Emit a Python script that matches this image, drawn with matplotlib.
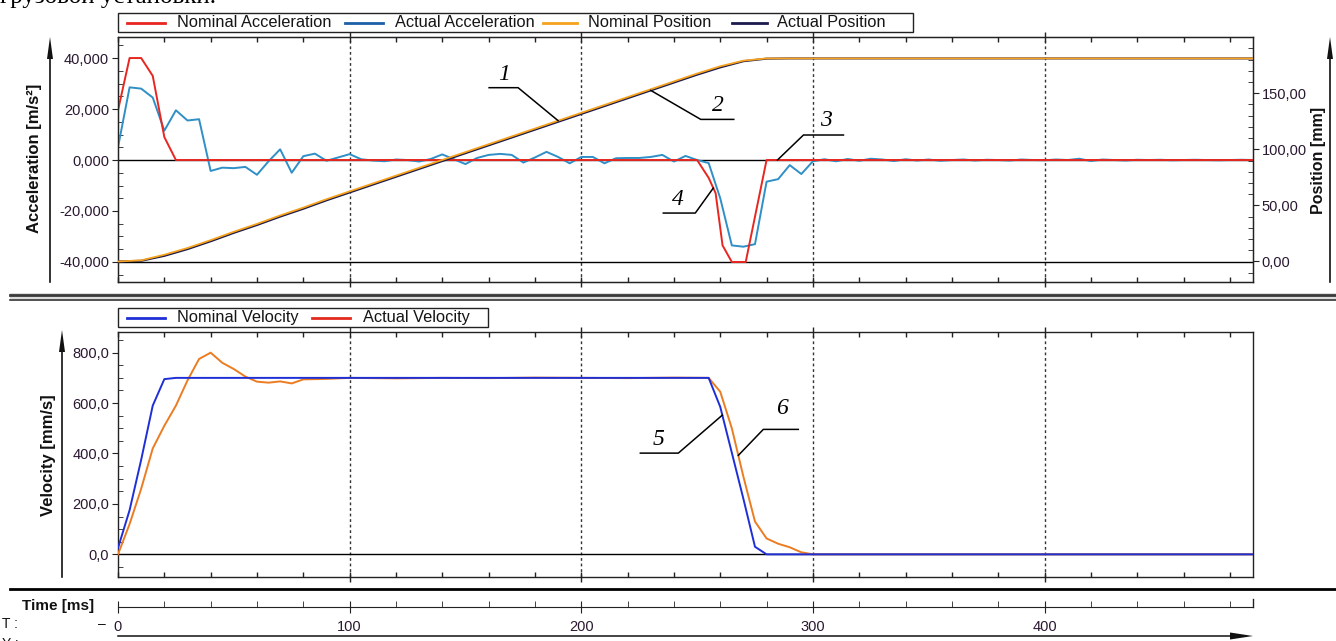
import numpy as np
import matplotlib
matplotlib.use("Agg")
import matplotlib.pyplot as plt
from matplotlib.lines import Line2D
from matplotlib.patches import Polygon, Rectangle
from matplotlib.ticker import MultipleLocator, FixedLocator, FuncFormatter
from matplotlib.transforms import IdentityTransform

# ---------------------------------------------------------------- data
# acceleration, m/s^2
t_acc_nom = [0, 5, 10, 15, 20, 25, 250, 255, 258, 261, 265, 271, 280, 490]
acc_nom = [19.5, 40.0, 40.0, 33.0, 9.0, 0.0, 0.0, -7.0, -13.0, -33.5, -40.0, -40.0, 0.0, 0.0]

t_acc_act = list(range(0, 491, 5))
acc_act = [5.0, 28.5, 28.0, 24.5, 11.5, 19.5, 15.5, 16.0, -4.3, -3.0,
           -3.2, -2.7, -5.8, -0.5, 4.2, -5.0, 1.5, 2.5, -0.3, 1.0,
           2.3, 0.3, -0.2, -0.5, 0.2, 0.0, -0.6, 0.4, 2.2, 0.3,
           -1.6, 0.8, 2.0, 2.4, 2.0, -1.0, 1.0, 3.2, 1.2, -1.3,
           1.2, 1.2, -1.3, 0.7, 0.8, 0.8, 1.2, 2.0, -0.6, 1.6,
           0.0, -1.2, -15.0, -33.5, -34.0, -33.0, -8.5, -7.5, -2.0, -5.5,
           -0.5, 0.3, -0.5, 0.4, -0.3, 0.5, 0.2, -0.4, 0.3, -0.2,
           0.2, -0.3, 0.0, 0.2, -0.2, 0.1, 0.0, -0.2, 0.2, 0.0,
           -0.1, 0.2, 0.0, 0.5, -0.4, 0.2, 0.0, -0.2, 0.1, 0.0,
           0.1, -0.1, 0.0, 0.1, 0.0, -0.1, 0.0, 0.1, 0.0]

# position, mm
t_pos = list(range(0, 491, 10))
pos_nom = [0.0, 1.0, 6.0, 12.0, 19.0, 26.5, 33.5, 41.0, 48.0, 55.5,
           62.5, 69.5, 76.5, 83.5, 90.5, 97.5, 104.5, 111.5, 118.5, 125.5,
           132.5, 139.5, 146.5, 153.5, 160.5, 167.5, 174.0, 179.0, 181.0, 181.0,
           181.0, 181.0, 181.0, 181.0, 181.0, 181.0, 181.0, 181.0, 181.0, 181.0,
           181.0, 181.0, 181.0, 181.0, 181.0, 181.0, 181.0, 181.0, 181.0, 181.0]
pos_act = [0.0, 0.6, 5.0, 11.0, 18.0, 25.5, 32.5, 40.0, 47.0, 54.5,
           61.5, 68.5, 75.5, 82.5, 89.5, 96.5, 103.5, 110.5, 117.5, 124.5,
           131.5, 138.5, 145.5, 152.5, 159.5, 166.5, 173.0, 178.5, 180.8, 181.0,
           181.0, 181.0, 181.0, 181.0, 181.0, 181.0, 181.0, 181.0, 181.0, 181.0,
           181.0, 181.0, 181.0, 181.0, 181.0, 181.0, 181.0, 181.0, 181.0, 181.0]

# velocity, mm/s
t_vel_nom = [0, 5, 10, 15, 20, 25, 255, 260, 265, 270, 275, 280, 490]
vel_nom = [25, 175, 375, 590, 695, 700, 700, 585, 403, 220, 30, 0, 0]

t_vel_act = [0, 5, 10, 15, 20, 25, 30, 35, 40, 45, 50, 55, 60, 65, 70, 75, 80,
             85, 90, 95, 100, 120, 140, 160, 180, 200, 220, 240, 255,
             260, 265, 270, 275, 280, 285, 290, 295, 300, 490]
vel_act = [0, 120, 260, 420, 510, 590, 690, 775, 800, 760, 735, 705, 685, 681,
           686, 678, 694, 695, 696, 698, 700, 698, 700, 699, 701, 700, 699, 701, 700,
           645, 500, 308, 130, 63, 42, 28, 8, 0, 0]

x_ticks = [100, 200, 300, 400]
acc_ticks = [-40, -20, 0, 20, 40]
pos_ticks = [0, 50, 100, 150]
vel_ticks = [0, 200, 400, 600, 800]

# ---------------------------------------------------------------- style
W, H = 1336, 641
plt.rcParams['font.family'] = ['Liberation Sans', 'DejaVu Sans']
TXT = '#2a1830'
PT = 0.72  # points per pixel at dpi 100

C_ACC_NOM = '#e8261f'
C_ACC_ACT = '#2f8fc6'
C_ACC_ACT_LEG = '#1d5fa8'
C_POS_NOM = '#f6a21e'
C_POS_ACT = '#1b1b4d'
C_VEL_NOM = '#1f2fd6'
C_VEL_ACT = '#ec7c22'
C_VEL_ACT_LEG = '#e42a1f'

fig = plt.figure(figsize=(W / 100, H / 100), dpi=100)
fig.patch.set_facecolor('white')


def fx(x):
    return x / W


def fy(y):
    return 1 - y / H


def axes_px(left, top, right, bottom):
    return fig.add_axes([fx(left), fy(bottom), (right - left) / W, (bottom - top) / H])


def fig_line(xs, ys, **kw):
    fig.add_artist(Line2D([fx(x) for x in xs], [fy(y) for y in ys],
                          transform=fig.transFigure, **kw))


def fig_poly(pts, color):
    fig.add_artist(Polygon([(fx(x), fy(y)) for x, y in pts], closed=True,
                           transform=fig.transFigure, color=color, lw=0))


def comma_fmt(decimals):
    return FuncFormatter(lambda v, _: f"{v:.{decimals}f}".replace('.', ','))


def style_time_axis(ax):
    ax.set_xlim(0, 490)
    ax.xaxis.set_major_locator(FixedLocator(x_ticks))
    ax.xaxis.set_minor_locator(MultipleLocator(20))
    ax.tick_params(axis='x', which='major', direction='inout', length=10 * PT,
                   width=1, top=True, bottom=True, labelbottom=False, color='#222')
    ax.tick_params(axis='x', which='minor', direction='in', length=5 * PT,
                   width=1, top=True, bottom=True, color='#222')
    for t in x_ticks:
        ax.axvline(t, color='#333333', lw=1.0, ls=(0, (2, 2)), zorder=1)
    for s in ax.spines.values():
        s.set_color('#222222')
        s.set_linewidth(1.0)


# ---------------------------------------------------------------- top panel
ax_acc = axes_px(118, 37, 1253, 282)
style_time_axis(ax_acc)
ax_acc.set_ylim(-47.85, 48.25)
ax_acc.yaxis.set_major_locator(FixedLocator(acc_ticks))
ax_acc.yaxis.set_minor_locator(MultipleLocator(5))
ax_acc.yaxis.set_major_formatter(comma_fmt(3))
ax_acc.tick_params(axis='y', which='major', direction='out', length=6 * PT,
                   labelsize=10.5, labelcolor=TXT, pad=2, color='#222')
ax_acc.tick_params(axis='y', which='minor', direction='in', length=5 * PT, color='#222')
ax_acc.axhline(0, color='black', lw=1.0, zorder=2)
ax_acc.axhline(-40, color='black', lw=1.0, zorder=2)
ax_acc.plot(t_acc_act, acc_act, color=C_ACC_ACT, lw=1.4, zorder=3)
ax_acc.plot(t_acc_nom, acc_nom, color=C_ACC_NOM, lw=1.4, zorder=4)

ax_pos = ax_acc.twinx()
ax_pos.set_xlim(0, 490)
ax_pos.set_ylim(-18.3, 200.1)
ax_pos.yaxis.set_major_locator(FixedLocator(pos_ticks))
ax_pos.yaxis.set_minor_locator(MultipleLocator(10))
ax_pos.yaxis.set_major_formatter(comma_fmt(2))
ax_pos.tick_params(axis='y', which='major', direction='out', length=6 * PT,
                   labelsize=10.5, labelcolor=TXT, pad=2, color='#222')
ax_pos.tick_params(axis='y', which='minor', direction='in', length=5 * PT, color='#222')
for s in ax_pos.spines.values():
    s.set_color('#222222')
ax_pos.plot(t_pos, pos_act, color=C_POS_ACT, lw=1.5, zorder=3)
ax_pos.plot(t_pos, pos_nom, color=C_POS_NOM, lw=1.3, zorder=4)

fig.text(fx(35), fy(158), 'Acceleration [m/s²]', rotation=90, ha='center', va='center',
         fontsize=12, fontweight='bold', color='#111')
fig.text(fx(1318), fy(160), 'Position [mm]', rotation=90, ha='center', va='center',
         fontsize=11.5, fontweight='bold', color='#111')

# ---------------------------------------------------------------- bottom panel
ax_vel = axes_px(118, 332, 1253, 577)
style_time_axis(ax_vel)
ax_vel.set_ylim(-90, 882)
ax_vel.yaxis.set_major_locator(FixedLocator(vel_ticks))
ax_vel.yaxis.set_minor_locator(MultipleLocator(50))
ax_vel.yaxis.set_major_formatter(comma_fmt(1))
ax_vel.tick_params(axis='y', which='major', direction='out', length=6 * PT,
                   labelsize=10.5, labelcolor=TXT, pad=2, color='#222')
ax_vel.tick_params(axis='y', which='minor', direction='in', length=5 * PT, color='#222')
ax_vel.axhline(0, color='black', lw=1.0, zorder=2)
ax_vel.plot(t_vel_act, vel_act, color=C_VEL_ACT, lw=1.4, zorder=3)
ax_vel.plot(t_vel_nom, vel_nom, color=C_VEL_NOM, lw=1.4, zorder=4)

fig.text(fx(48), fy(455), 'Velocity [mm/s]', rotation=90, ha='center', va='center',
         fontsize=12, fontweight='bold', color='#111')

# ---------------------------------------------------------------- time strip
ax_t = fig.add_axes([fx(118), fy(607), 1135 / W, 1e-6])
ax_t.set_xlim(0, 490)
ax_t.set_yticks([])
for side in ('left', 'right', 'top'):
    ax_t.spines[side].set_visible(False)
ax_t.spines['bottom'].set_color('#222')
ax_t.xaxis.set_major_locator(FixedLocator([0] + x_ticks))
ax_t.xaxis.set_minor_locator(MultipleLocator(20))
ax_t.xaxis.set_major_formatter(FuncFormatter(lambda v, _: f"{v:.0f}"))
ax_t.tick_params(axis='x', which='major', direction='inout', length=12 * PT,
                 labelsize=10.5, labelcolor=TXT, pad=5, color='#222')
ax_t.tick_params(axis='x', which='minor', direction='in', length=6 * PT, color='#222')
fig_line([1253, 1253], [599, 607], color='#222', lw=1.0)

fig.text(fx(22), fy(606), 'Time [ms]', ha='left', va='center', fontsize=11,
         fontweight='bold', color='#111')
fig.text(fx(2), fy(624), 'T :', ha='left', va='center', fontsize=10, color='#111')
fig.text(fx(102), fy(624), '–', ha='center', va='center', fontsize=10, color='#111')
fig.text(fx(2), fy(637), 'Y :', ha='left', va='top', fontsize=10, color='#111')

# bottom arrow
fig_line([118, 1240], [636, 636], color='#111', lw=1.1)
fig_poly([(1230, 632.5), (1253, 636), (1230, 639.5)], '#111')

# ---------------------------------------------------------------- frame pieces
fig.add_artist(Rectangle((fx(10), fy(301)), 1 - fx(10), 8 / H, transform=fig.transFigure,
                         facecolor='#dcdcdc', edgecolor='none'))
fig_line([10, W], [294.5, 294.5], color='#3a3a3a', lw=2.0)
fig_line([10, W], [300.3, 300.3], color='#3a3a3a', lw=1.2)
fig_line([10, W], [589, 589], color='black', lw=2.0)

# vertical axis arrows
for x, top, bot in [(50, 37, 282), (1330, 37, 282), (62, 330, 577)]:
    fig_line([x, x], [top + 15, bot], color='#111', lw=1.2)
    fig_poly([(x - 3, top + 22), (x, top), (x + 3, top + 22)], '#111')

# ---------------------------------------------------------------- legends
def legend_box(left, top, right, bottom, entries):
    fig.add_artist(Rectangle((fx(left), fy(bottom)), (right - left) / W, (bottom - top) / H,
                             transform=fig.transFigure, facecolor='white',
                             edgecolor='#222', lw=1.0))
    yc = (top + bottom) / 2
    for x0, x1, color, xt, label in entries:
        fig_line([x0, x1], [yc, yc], color=color, lw=2.0)
        fig.text(fx(xt), fy(yc), label, ha='left', va='center', fontsize=11.8,
                 color='#151515')


legend_box(118, 13, 913, 32, [
    (127, 165, C_ACC_NOM, 177, 'Nominal Acceleration'),
    (345, 383, C_ACC_ACT_LEG, 395, 'Actual Acceleration'),
    (543, 577, C_POS_NOM, 588, 'Nominal Position'),
    (732, 767, C_POS_ACT, 777, 'Actual Position'),
])
legend_box(118, 308, 488, 327, [
    (127, 165, C_VEL_NOM, 177, 'Nominal Velocity'),
    (312, 350, C_VEL_ACT_LEG, 363, 'Actual Velocity'),
])

# ---------------------------------------------------------------- callouts
def callout(ax, xs, ys, t, elbow, end, label_at, label):
    """Leader from a point on a curve; offsets are pixels (x right, y down)."""
    x0, y0 = ax.transData.transform((t, np.interp(t, xs, ys)))
    px = [x0, x0 + elbow[0], x0 + end[0]]
    py = [y0, y0 - elbow[1], y0 - elbow[1]]
    fig.add_artist(Line2D(px, py, transform=IdentityTransform(), color='black', lw=1.1))
    fig.text(x0 + label_at[0], y0 - label_at[1], label, transform=IdentityTransform(),
             ha='center', va='center', fontsize=17, style='italic',
             family=['Liberation Serif', 'DejaVu Serif'], color='black')


callout(ax_pos, t_pos, pos_nom, 190, (-40, -33), (-69, -33), (-54, -46), '1')
callout(ax_pos, t_pos, pos_act, 230, (50, 29), (83, 29), (67, 15), '2')
callout(ax_acc, t_acc_nom, acc_nom, 284.7, (26, -25), (66, -25), (49, -40), '3')
callout(ax_acc, t_acc_nom, acc_nom, 257, (-18, 25), (-50, 25), (-35, 11), '4')
callout(ax_vel, t_vel_nom, vel_nom, 260.9, (-44, 38), (-82, 38), (-64, 24), '5')
callout(ax_vel, t_vel_act, vel_act, 267.8, (25, -26), (60, -26), (44, -47), '6')

# caption line cut by the top edge
fig.text(fx(0), fy(3), 'грузовой установки.', ha='left', va='baseline', fontsize=18,
         family=['Liberation Serif', 'DejaVu Serif'], color='black')

fig.savefig('out.png', dpi=100, facecolor='white')
